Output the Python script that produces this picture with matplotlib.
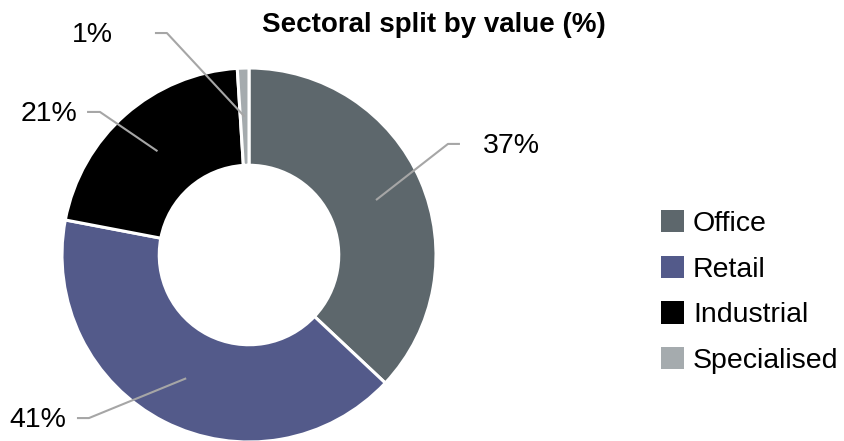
import matplotlib
matplotlib.use("Agg")
import matplotlib.pyplot as plt
import numpy as np
from matplotlib.patches import Patch

plt.rcParams['font.family'] = ['Liberation Sans', 'DejaVu Sans']

categories = ["Office", "Retail", "Industrial", "Specialised"]
values = [37, 41, 21, 1]
labels = ["37%", "41%", "21%", "1%"]
colors = ["#5d676c", "#535a8a", "#000000", "#a5abae"]
title = "Sectoral split by value (%)"

W, H = 844, 441
fig = plt.figure(figsize=(W / 100, H / 100), dpi=100)
cx, cy, R = 249, 255, 187
ax = fig.add_axes([(cx - R) / W, (H - cy - R) / H, 2 * R / W, 2 * R / H])

wedges, _ = ax.pie(values, colors=colors, startangle=90, counterclock=False,
                   wedgeprops=dict(width=0.52, edgecolor="white", linewidth=2.2))
ax.set_xlim(-1, 1)
ax.set_ylim(-1, 1)
ax.set_aspect("equal")
ax.axis("off")

# leader geometry (layout only): elbow point, line end, text anchor x, ha
layout = [
    ((1.064, 0.594), 1.128, 1.250, "left"),
    ((-0.856, -0.872), -0.920, -0.978, "right"),
    ((-0.797, 0.765), -0.866, -0.920, "right"),
    ((-0.439, 1.187), -0.503, -0.727, "right"),
]
lc = "#a6a6a6"
for w, lab, (elbow, xend, xtxt, ha) in zip(wedges, labels, layout):
    ang = np.deg2rad((w.theta1 + w.theta2) / 2)
    rmid = 0.74
    ax0, ay0 = rmid * np.cos(ang), rmid * np.sin(ang)
    ax.plot([ax0, elbow[0], xend], [ay0, elbow[1], elbow[1]], color=lc, lw=1.5,
            clip_on=False, solid_capstyle="butt")
    ax.text(xtxt, elbow[1] - 0.012, lab, ha=ha, va="center", fontsize=20.5,
            clip_on=False)

fig.text(434 / W, 1 - 25 / H, title, ha="center", va="center", fontsize=20,
         fontweight="bold")

handles = [Patch(facecolor=c, edgecolor="none") for c in colors]
fig.legend(handles, categories, loc="center left",
           bbox_to_anchor=(661 / W, 1 - 292 / H), frameon=False, fontsize=20.5,
           handlelength=0.82, handleheight=0.82, handletextpad=0.3,
           labelspacing=0.66, borderpad=0, borderaxespad=0)

fig.savefig("out.png", dpi=100)
